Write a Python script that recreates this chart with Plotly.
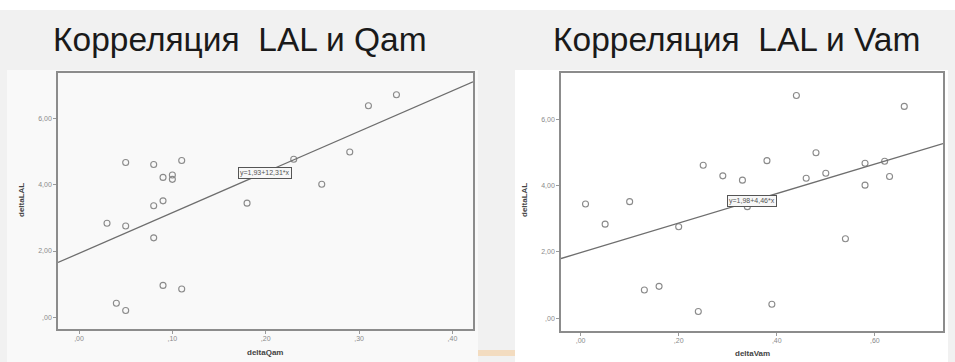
import plotly.graph_objects as go

# ---- data ----
qam_x = [0.03, 0.05, 0.05, 0.04, 0.05, 0.08, 0.08, 0.08, 0.09, 0.09, 0.09,
         0.10, 0.10, 0.11, 0.11, 0.18, 0.23, 0.26, 0.29, 0.31, 0.34]
qam_y = [2.84, 2.76, 4.68, 0.42, 0.20, 4.62, 3.37, 2.40, 4.23, 3.52, 0.96,
         4.30, 4.17, 4.74, 0.85, 3.45, 4.78, 4.02, 5.00, 6.40, 6.73]

vam_x = [0.01, 0.05, 0.10, 0.13, 0.16, 0.20, 0.24, 0.25, 0.29, 0.33, 0.34,
         0.38, 0.39, 0.44, 0.46, 0.48, 0.50, 0.54, 0.58, 0.58, 0.62, 0.63, 0.66]
vam_y = [3.45, 2.84, 3.52, 0.85, 0.96, 2.76, 0.20, 4.62, 4.30, 4.17, 3.37,
         4.76, 0.42, 6.73, 4.23, 5.00, 4.38, 2.40, 4.68, 4.02, 4.74, 4.28, 6.40]

fit_qam = (1.93, 12.31)   # intercept, slope
fit_vam = (1.98, 4.46)

qam_xticks = [0.0, 0.1, 0.2, 0.3, 0.4]
qam_xlabels = [",00", ",10", ",20", ",30", ",40"]
vam_xticks = [0.0, 0.2, 0.4, 0.6]
vam_xlabels = [",00", ",20", ",40", ",60"]
y_ticks = [0, 2, 4, 6]
y_labels = [",00", "2,00", "4,00", "6,00"]

titles = ["Корреляция  LAL и Qam", "Корреляция  LAL и Vam"]
eq_labels = ["y=1,93+12,31*x", "y=1,98+4,46*x"]

W, H = 955, 362
qam_xr = [-0.0225, 0.422]
qam_yr = [-0.36, 7.39]
vam_xr = [-0.040, 0.739]
vam_yr = [-0.39, 7.41]

def px(x):
    return x / W

def py(y):
    return 1 - y / H

fig = go.Figure()

mk = dict(symbol="circle-open", size=6, color="#8a8a8a", line=dict(width=1.1, color="#8a8a8a"))
fig.add_trace(go.Scatter(x=qam_x, y=qam_y, mode="markers", marker=mk, xaxis="x", yaxis="y",
                         showlegend=False, hoverinfo="skip"))
fig.add_trace(go.Scatter(x=vam_x, y=vam_y, mode="markers", marker=mk, xaxis="x2", yaxis="y2",
                         showlegend=False, hoverinfo="skip"))

for (b, m), xr, xa, ya in [(fit_qam, qam_xr, "x", "y"), (fit_vam, vam_xr, "x2", "y2")]:
    fig.add_trace(go.Scatter(x=xr, y=[b + m * xr[0], b + m * xr[1]], mode="lines",
                             line=dict(color="#6e6e6e", width=1.3), xaxis=xa, yaxis=ya,
                             showlegend=False, hoverinfo="skip"))

tickfont = dict(family="Liberation Sans, Arial", size=7, color="#8a8a8a")
common = dict(showgrid=False, zeroline=False, ticks="outside", ticklen=3, tickcolor="#9a9a9a",
              tickfont=tickfont, showline=True, linecolor="#8c8c8c", linewidth=1.5, mirror=True)

fig.update_layout(
    width=W, height=H, margin=dict(l=0, r=0, t=0, b=0),
    paper_bgcolor="#f1f1f1", plot_bgcolor="#efefef",
    xaxis=dict(domain=[px(58), px(473)], range=qam_xr, tickvals=qam_xticks, ticktext=qam_xlabels,
               anchor="y", ticklabelstandoff=-1, **common),
    yaxis=dict(domain=[py(329), py(73)], range=qam_yr, tickvals=y_ticks, ticktext=y_labels,
               anchor="x", **common),
    xaxis2=dict(domain=[px(561), px(943)], range=vam_xr, tickvals=vam_xticks, ticktext=vam_xlabels,
                anchor="y2", ticklabelstandoff=-1, **common),
    yaxis2=dict(domain=[py(331), py(73)], range=vam_yr, tickvals=y_ticks, ticktext=y_labels,
                anchor="x2", **common),
    shapes=[
        dict(type="rect", xref="paper", yref="paper", x0=0, x1=1, y0=py(10), y1=1,
             fillcolor="#ffffff", line_width=0, layer="below"),
        dict(type="rect", xref="paper", yref="paper", x0=px(7), x1=px(478), y0=0, y1=py(70),
             fillcolor="#f9f9f9", line_width=0, layer="below"),
        dict(type="rect", xref="paper", yref="paper", x0=px(515), x1=px(948), y0=0, y1=py(70),
             fillcolor="#ffffff", line_width=0, layer="below"),
        dict(type="rect", xref="paper", yref="paper", x0=px(478), x1=px(515), y0=py(356), y1=py(350),
             fillcolor="#f3dcc0", line_width=0, layer="below"),
    ],
)

tfont = dict(family="Liberation Sans Narrow, Arial Narrow, Liberation Sans", size=33.5, color="#1a1a1a")
fig.add_annotation(text=titles[0], xref="paper", yref="paper", x=px(51), y=py(40),
                   xanchor="left", yanchor="middle", showarrow=False, font=tfont)
fig.add_annotation(text=titles[1], xref="paper", yref="paper", x=px(551), y=py(40),
                   xanchor="left", yanchor="middle", showarrow=False, font=tfont)

afont = dict(family="Liberation Sans, Arial", size=8, color="#444444")
ann_common = dict(xref="paper", yref="paper", showarrow=False, font=afont,
                  xanchor="center", yanchor="middle")
fig.add_annotation(text="<b>deltaLAL</b>", x=px(21), y=py(200), textangle=-90, **ann_common)
fig.add_annotation(text="<b>deltaLAL</b>", x=px(524), y=py(200), textangle=-90, **ann_common)
fig.add_annotation(text="<b>deltaQam</b>", x=px(265), y=py(352), **ann_common)
fig.add_annotation(text="<b>deltaVam</b>", x=px(752), y=py(353), **ann_common)

efont = dict(family="Liberation Sans, Arial", size=7, color="#555555")
fig.add_annotation(text=eq_labels[0], x=0.199, y=4.37, xref="x", yref="y", showarrow=False,
                   font=efont, bgcolor="#f7f7f7", bordercolor="#555555", borderwidth=1, borderpad=1)
fig.add_annotation(text=eq_labels[1], x=0.349, y=3.54, xref="x2", yref="y2", showarrow=False,
                   font=efont, bgcolor="#f7f7f7", bordercolor="#555555", borderwidth=1, borderpad=1)

fig.write_html("out.html", config={"displayModeBar": False},
               post_script="document.body.style.margin='0';document.body.style.overflow='hidden';")
